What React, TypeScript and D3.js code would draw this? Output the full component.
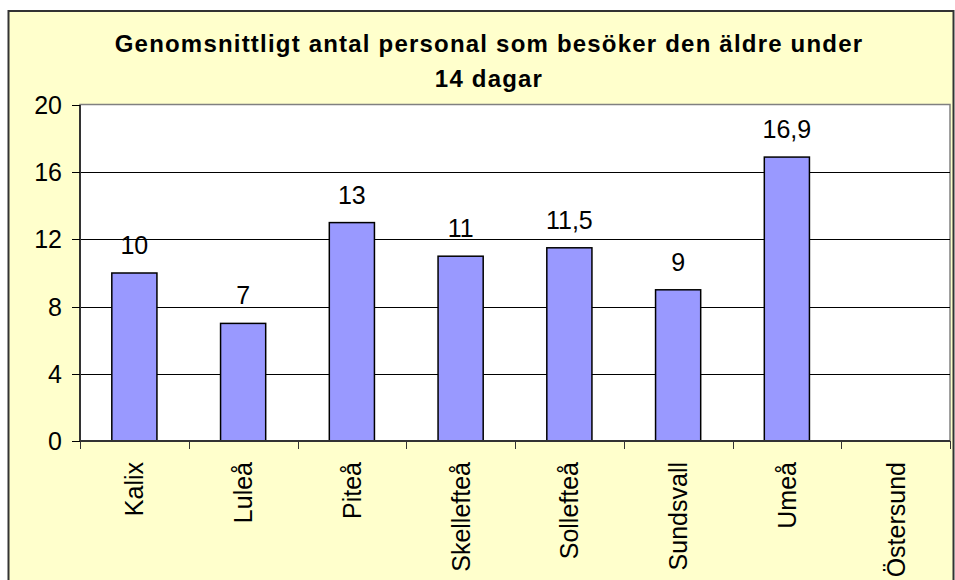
import React, { useEffect, useRef } from 'react';
import * as d3 from 'd3';

const categories = ['Kalix', 'Luleå', 'Piteå', 'Skellefteå', 'Sollefteå', 'Sundsvall', 'Umeå', 'Östersund'];
const values = [10, 7, 13, 11, 11.5, 9, 16.9, null];
const yTicks = [0, 4, 8, 12, 16, 20];
const titleLines = ['Genomsnittligt antal personal som besöker den äldre under', '14 dagar'];

const width = 955;
const height = 580;

const margins = { l: 80, t: 105, r: 5, b: 139 };
const plotwidth = width - margins.l - margins.r;
const plotheight = height - margins.t - margins.b;

const font = '"Liberation Sans", Arial, sans-serif';
const labelSize = '25px';

const BarChart = () => {
  const container = useRef(null);

  useEffect(() => {
    createChart();
  }, []);

  const createChart = () => {
    const svg = d3
      .select(container.current)
      .selectAll('svg')
      .data([0])
      .join('svg')
      .attr('width', width)
      .attr('height', height)
      .style('position', 'absolute')
      .style('left', 0)
      .style('top', 0)
      .style('font-family', font);

    // chart background + border
    svg
      .selectAll('.bg')
      .data([0])
      .join('rect')
      .attr('class', 'bg')
      .attr('x', 8.5)
      .attr('y', 11)
      .attr('width', 945)
      .attr('height', 600)
      .attr('fill', '#FFFFCC')
      .attr('stroke', '#333')
      .attr('stroke-width', 2);

    const xScale = d3
      .scaleBand()
      .domain(categories)
      .range([0, plotwidth])
      .paddingInner(0.585)
      .paddingOuter(0.2925);

    const yScale = d3.scaleLinear().domain([0, 20]).range([plotheight, 0]);

    const plotg = svg
      .selectAll('.plotg')
      .data([0])
      .join('g')
      .attr('class', 'plotg')
      .attr('transform', `translate(${margins.l},${margins.t})`);

    plotg
      .selectAll('.plotbg')
      .data([0])
      .join('rect')
      .attr('class', 'plotbg')
      .attr('x', 0)
      .attr('y', -0.5)
      .attr('width', plotwidth)
      .attr('height', plotheight + 0.5)
      .attr('fill', '#fff')
      .attr('stroke', '#808080')
      .attr('stroke-width', 1.5);

    // gridlines
    plotg
      .selectAll('.grid')
      .data(yTicks.filter(t => t > 0 && t < 20))
      .join('line')
      .attr('class', 'grid')
      .attr('x1', 0)
      .attr('x2', plotwidth)
      .attr('y1', d => Math.round(yScale(d)) + 0.5)
      .attr('y2', d => Math.round(yScale(d)) + 0.5)
      .attr('stroke', '#000')
      .attr('stroke-width', 1);

    // bars
    const data = categories.map((c, i) => ({ name: c, value: values[i] }));
    const shown = data.filter(d => d.value != null);

    plotg
      .selectAll('.bar')
      .data(shown)
      .join('rect')
      .attr('class', 'bar')
      .attr('x', d => xScale(d.name))
      .attr('y', d => yScale(d.value))
      .attr('width', xScale.bandwidth())
      .attr('height', d => plotheight - yScale(d.value))
      .attr('fill', '#9999FF')
      .attr('stroke', '#000')
      .attr('stroke-width', 1.5);

    plotg
      .selectAll('.vlabel')
      .data(shown)
      .join('text')
      .attr('class', 'vlabel')
      .attr('x', d => xScale(d.name) + xScale.bandwidth() / 2)
      .attr('y', d => yScale(d.value) - 19)
      .attr('text-anchor', 'middle')
      .style('font-size', labelSize)
      .attr('fill', '#000')
      .text(d => String(d.value).replace('.', ','));

    // y axis
    const yaxisg = plotg.selectAll('.yaxisg').data([0]).join('g').attr('class', 'yaxisg');
    yaxisg
      .selectAll('.ydomain')
      .data([0])
      .join('line')
      .attr('class', 'ydomain')
      .attr('x1', 0)
      .attr('x2', 0)
      .attr('y1', 0)
      .attr('y2', plotheight)
      .attr('stroke', '#333')
      .attr('stroke-width', 2);
    yaxisg
      .selectAll('.ytick')
      .data(yTicks)
      .join('line')
      .attr('class', 'ytick')
      .attr('x1', -8)
      .attr('x2', 0)
      .attr('y1', d => Math.round(yScale(d)) + 0.5)
      .attr('y2', d => Math.round(yScale(d)) + 0.5)
      .attr('stroke', '#000');
    yaxisg
      .selectAll('.ylabel')
      .data(yTicks)
      .join('text')
      .attr('class', 'ylabel')
      .attr('x', -18)
      .attr('y', d => yScale(d))
      .attr('dy', '0.36em')
      .attr('text-anchor', 'end')
      .style('font-size', labelSize)
      .text(d => d);

    // x axis
    const xaxisg = plotg
      .selectAll('.xaxisg')
      .data([0])
      .join('g')
      .attr('class', 'xaxisg')
      .attr('transform', `translate(0,${plotheight})`);
    xaxisg
      .selectAll('.xdomain')
      .data([0])
      .join('line')
      .attr('class', 'xdomain')
      .attr('x1', 0)
      .attr('x2', plotwidth)
      .attr('y1', 0)
      .attr('y2', 0)
      .attr('stroke', '#333')
      .attr('stroke-width', 2);
    const step = xScale.step();
    xaxisg
      .selectAll('.xtick')
      .data(d3.range(categories.length + 1))
      .join('line')
      .attr('class', 'xtick')
      .attr('x1', i => Math.round(i * step) + 0.5)
      .attr('x2', i => Math.round(i * step) + 0.5)
      .attr('y1', 0)
      .attr('y2', 8)
      .attr('stroke', '#333');
    xaxisg
      .selectAll('.xlabel')
      .data(categories)
      .join('text')
      .attr('class', 'xlabel')
      .attr(
        'transform',
        d => `translate(${xScale(d) + xScale.bandwidth() / 2},21)rotate(-90)`
      )
      .attr('dy', '0.36em')
      .attr('text-anchor', 'end')
      .style('font-size', labelSize)
      .text(d => d);

    // title
    svg
      .selectAll('.title')
      .data(titleLines)
      .join('text')
      .attr('class', 'title')
      .attr('x', 489)
      .attr('y', (d, i) => 52 + i * 35)
      .attr('text-anchor', 'middle')
      .style('font-size', '24px')
      .style('font-weight', 'bold')
      .style('letter-spacing', '1.2px')
      .text(d => d);
  };

  return <div className="chart-container" ref={container}></div>;
};

export default function App() {
  return <BarChart />;
}
